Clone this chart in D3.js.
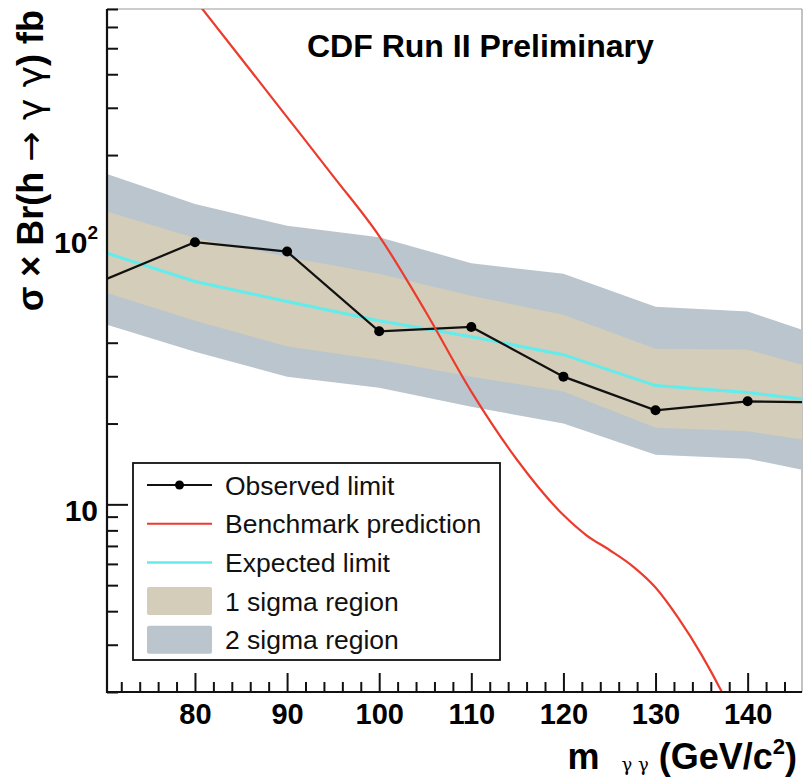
<!DOCTYPE html>
<html><head><meta charset="utf-8">
<script src="https://cdn.jsdelivr.net/npm/d3@7"></script>
<style>
body{margin:0;background:#fff}
text{font-family:"Liberation Sans",Arial,Helvetica,sans-serif}
</style>
</head><body>
<svg id="c" width="804" height="780"></svg>
<script>
// ---- data ----
const masses     = [70, 80, 90, 100, 110, 120, 130, 140, 150];
const observed   = [68.2, 94.7, 87.4, 44.1, 45.8, 29.9, 22.4, 24.2, 23.9];
const expected   = [87.2, 67.6, 57.0, 48.3, 42.1, 36.1, 27.7, 26.1, 23.7];
const sigma1Low  = [61.9, 48.3, 38.7, 34.6, 29.9, 26.3, 19.3, 18.7, 16.6];
const sigma1High = [124.5, 98.3, 83.5, 72.2, 59.8, 50.8, 38.0, 37.7, 30.3];
const sigma2Low  = [47.2, 37.0, 29.9, 27.2, 23.1, 20.0, 15.3, 14.8, 12.6];
const sigma2High = [172, 131.5, 109, 98.9, 79.1, 72.2, 54.4, 52.3, 40.1];
const benchMass  = [80, 85, 90, 95, 100, 105, 110, 115, 120, 122.5, 125, 127.5, 130, 132.5, 135, 137.5, 140];
const benchValue = [759, 459, 277, 167, 99.8, 52.5, 26.3, 14.6, 9.12, 7.67, 6.76, 5.89, 4.90, 3.76, 2.75, 1.91, 1.26];
const xMajorTicks = [80, 90, 100, 110, 120, 130, 140];
const xMinorTicks = d3.range(72, 146, 2).filter(v => v % 10 !== 0);
const yMajorTicks = [10, 100];
const yMinorTicks = [2,3,4,5,6,7,8,9,20,30,40,50,60,70,80,90,200,300,400,500,600,700];
const legendLabels = ["Observed limit", "Benchmark prediction", "Expected limit", "1 sigma region", "2 sigma region"];

const colGrey = "#bac5cd", colTan = "#d3cdb9", colCyan = "#62ecec", colRed = "#ec3b2c";

const svg = d3.select("#c");
const L = 107, R = 802, T = 9, B = 692;
const x = d3.scaleLinear().domain([70.45, 145.9]).range([L, R]);
const y = d3.scaleLog().domain([2, 700]).range([B, T]);

svg.append("defs").append("clipPath").attr("id","clip")
  .append("rect").attr("x",L).attr("y",T).attr("width",R-L).attr("height",B-T);

// frame (top/right thin)
svg.append("line").attr("x1",L).attr("x2",R).attr("y1",T).attr("y2",T).attr("stroke","#999").attr("stroke-width",1.2);
svg.append("line").attr("x1",R).attr("x2",R).attr("y1",T).attr("y2",B).attr("stroke","#999").attr("stroke-width",1.2);

// ticks (under bands)
const tickStyle = g => { g.select(".domain").remove(); g.selectAll(".tick line").attr("stroke","#111").attr("stroke-width",2); };
svg.append("g").attr("transform",`translate(0,${B})`)
  .call(d3.axisBottom(x).tickValues(xMinorTicks).tickSize(-10).tickFormat(""))
  .call(tickStyle);
const xa = svg.append("g").attr("transform",`translate(0,${B})`)
  .call(d3.axisBottom(x).tickValues(xMajorTicks).tickSize(-19).tickPadding(11).tickFormat(d3.format("d")))
  .call(tickStyle);
xa.selectAll("text").attr("font-size",29).attr("font-weight","bold").attr("fill","#000")
  .style("font-family","'Liberation Sans',Arial,sans-serif");
svg.append("g").attr("transform",`translate(${L},0)`)
  .call(d3.axisLeft(y).tickValues(yMinorTicks).tickSize(-11).tickFormat(""))
  .call(tickStyle);
const ya = svg.append("g").attr("transform",`translate(${L},0)`)
  .call(d3.axisLeft(y).tickValues(yMajorTicks).tickSize(-21).tickPadding(9).tickFormat(""))
  .call(tickStyle);
ya.selectAll(".tick text").attr("font-size",30).attr("font-weight","bold").attr("fill","#000")
  .attr("dy","0.55em").style("font-family","'Liberation Sans',Arial,sans-serif")
  .each(function(d){
    const t = d3.select(this);
    const e = Math.round(Math.log10(d));
    if (e === 1) { t.text("10"); }
    else { t.text("10"); t.append("tspan").attr("font-size",19).attr("dy","-0.75em").text(String(e)); }
  });

// bands & lines
const plot = svg.append("g").attr("clip-path","url(#clip)");
const idx = masses.map((m,i)=>i);
const area = (lo, hi) => d3.area().x(i=>x(masses[i])).y0(i=>y(lo[i])).y1(i=>y(hi[i]));
plot.append("path").attr("d", area(sigma2Low, sigma2High)(idx)).attr("fill", colGrey);
plot.append("path").attr("d", area(sigma1Low, sigma1High)(idx)).attr("fill", colTan);
const line = vals => d3.line().x(i=>x(masses[i])).y(i=>y(vals[i]));
plot.append("path").attr("d", line(expected)(idx)).attr("fill","none").attr("stroke",colCyan).attr("stroke-width",3);
plot.append("path").attr("d", line(observed)(idx)).attr("fill","none").attr("stroke","#111").attr("stroke-width",2.2);
plot.selectAll("circle.obs").data(idx.filter(i=>masses[i]>=x.domain()[0] && masses[i]<=x.domain()[1])).join("circle")
  .attr("class","obs").attr("cx",i=>x(masses[i])).attr("cy",i=>y(observed[i])).attr("r",5).attr("fill","#000");
const bIdx = benchMass.map((m,i)=>i);
plot.append("path").attr("d", d3.line().curve(d3.curveMonotoneX)
    .x(i=>x(benchMass[i])).y(i=>y(benchValue[i]))(bIdx))
  .attr("fill","none").attr("stroke",colRed).attr("stroke-width",2.2);

// axis spines
svg.append("line").attr("x1",L).attr("x2",L).attr("y1",T).attr("y2",B+1).attr("stroke","#111").attr("stroke-width",2.2);
svg.append("line").attr("x1",L-1).attr("x2",R).attr("y1",B).attr("y2",B).attr("stroke","#111").attr("stroke-width",2.2);

// title
svg.append("text").attr("x",307).attr("y",57).attr("font-size",32).attr("font-weight","bold").text("CDF Run II Preliminary");

// y axis title
const yt = svg.append("text").attr("transform","translate(43,10) rotate(-90)").attr("text-anchor","end")
  .attr("font-size",36).attr("font-weight","bold");
yt.append("tspan").text("σ × Br(h ");
yt.append("tspan").attr("font-weight","normal").style("font-family","'DejaVu Sans',sans-serif").text("→ γ γ");
yt.append("tspan").text(") fb");

// x axis title
const xt = svg.append("text").attr("x",797).attr("y",769).attr("text-anchor","end").attr("font-size",36).attr("font-weight","bold");
xt.append("tspan").text("m");
xt.append("tspan").attr("font-size",18).attr("font-weight","normal").style("font-family","'DejaVu Serif',serif")
  .attr("dx","22").attr("dy","2").text("γ γ");
xt.append("tspan").attr("dy","-2").text("  (GeV/c");
xt.append("tspan").attr("font-size",22).attr("dy","-15").text("2");
xt.append("tspan").attr("dy","15").text(")");

// legend
const lg = svg.append("g");
lg.append("rect").attr("x",133).attr("y",463).attr("width",367).attr("height",197)
  .attr("fill","#fff").attr("stroke","#111").attr("stroke-width",1.8);
const rowY = i => 485 + i*38.7;
const sx0 = 147, sx1 = 212;
legendLabels.forEach((lab,i)=>{
  const cy = rowY(i);
  if (i===0){
    lg.append("line").attr("x1",sx0).attr("x2",sx1).attr("y1",cy).attr("y2",cy).attr("stroke","#111").attr("stroke-width",2);
    lg.append("circle").attr("cx",(sx0+sx1)/2).attr("cy",cy).attr("r",4.5).attr("fill","#000");
  } else if (i===1){
    lg.append("line").attr("x1",sx0).attr("x2",sx1).attr("y1",cy).attr("y2",cy).attr("stroke",colRed).attr("stroke-width",2);
  } else if (i===2){
    lg.append("line").attr("x1",sx0).attr("x2",sx1).attr("y1",cy).attr("y2",cy).attr("stroke",colCyan).attr("stroke-width",2.5);
  } else {
    lg.append("rect").attr("x",sx0).attr("y",cy-14).attr("width",sx1-sx0).attr("height",28).attr("rx",2)
      .attr("fill", i===3 ? colTan : colGrey);
  }
  lg.append("text").attr("x",225).attr("y",cy).attr("dy","0.36em").attr("font-size",26.5).attr("fill","#111").text(lab);
});
</script>
</body></html>
